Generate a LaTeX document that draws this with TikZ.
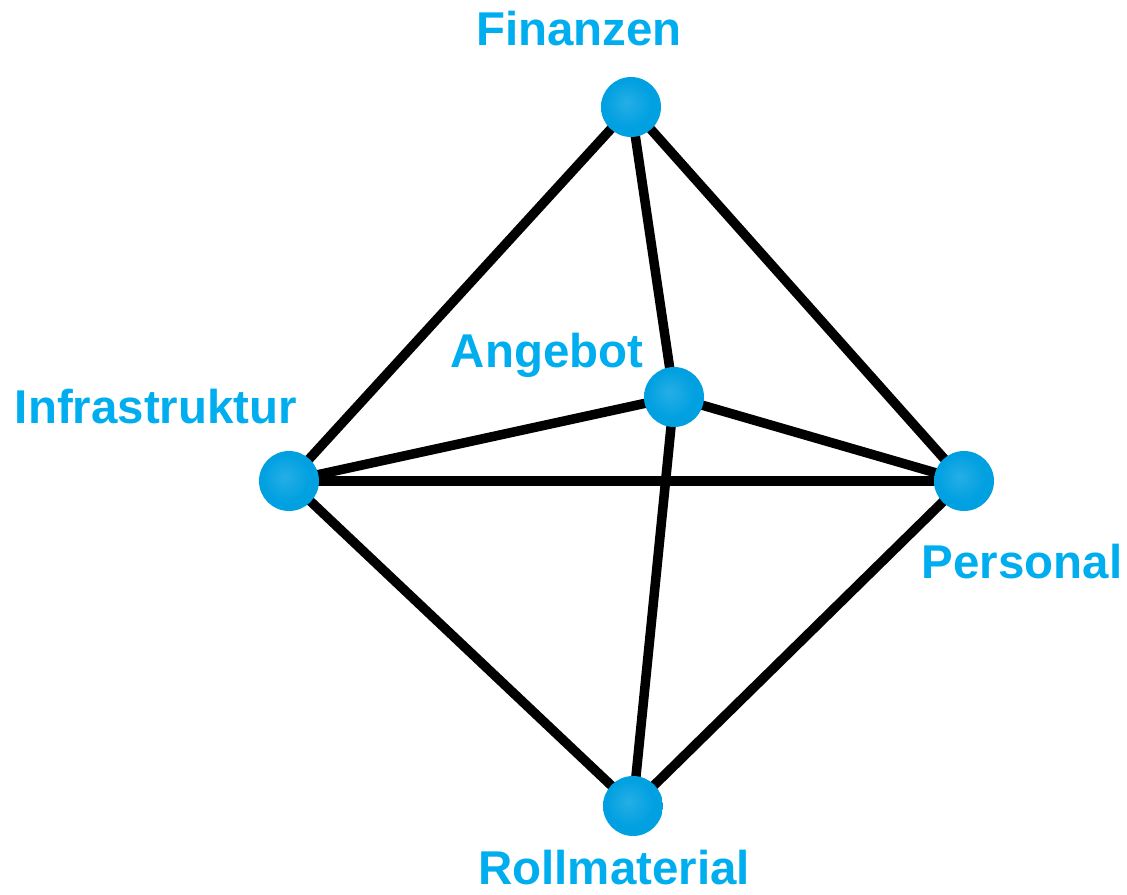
\documentclass[tikz,border=0pt]{standalone}
\usepackage{fontspec}
\setmainfont{Liberation Sans}
\usepackage{xcolor}
\usetikzlibrary{backgrounds}
\definecolor{ballBlue}{RGB}{0,160,225}
\definecolor{ballDark}{RGB}{0,95,150}
\definecolor{labelBlue}{RGB}{0,174,239}
\pgfdeclareradialshading{ballshade}{\pgfpoint{-4bp}{4bp}}{%
  color(0bp)=(ballBlue!85!white); color(20bp)=(ballBlue); color(38bp)=(ballBlue);
  color(47bp)=(ballDark); color(50bp)=(ballDark)}

\begin{document}
\begin{tikzpicture}[
    x=0.02cm, y=-0.02cm,
    ball/.style={circle, shading=ballshade, minimum size=1.2cm, inner sep=0pt},
    lbl/.style={anchor=base, text=labelBlue, font=\fontsize{27}{30}\selectfont\bfseries, inner sep=0pt},
    edge/.style={line width=0.19cm, black}
]
\useasboundingbox (0,0) rectangle (1127,894);

% Balls
\node[ball] (fin)   at (631,107) {};
\node[ball] (ang)   at (674,397) {};
\node[ball] (infra) at (289,481) {};
\node[ball] (pers)  at (964,481) {};
\node[ball] (roll)  at (633,806) {};

% Labels
\node[lbl] (finL)   at (579,45)  {Finanzen};
\node[lbl] (angL)   at (547,367) {Angebot};
\node[lbl] (infraL) at (156,423) {Infrastruktur};
\node[lbl] (persL)  at (1022,578) {Personal};
\node[lbl] (rollL)  at (614,884) {Rollmaterial};

% Edges
\begin{scope}[on background layer]
\draw[edge] (fin.center) -- (infra.center);
\draw[edge] (fin.center) -- (ang.center);
\draw[edge] (fin.center) -- (pers.center);
\draw[edge] (infra.center) -- (ang.center);
\draw[edge] (infra.center) -- (pers.center);
\draw[edge] (ang.center) -- (pers.center);
\draw[edge] (infra.center) -- (roll.center);
\draw[edge] (ang.center) -- (roll.center);
\draw[edge] (pers.center) -- (roll.center);
\end{scope}

\end{tikzpicture}
\end{document}
